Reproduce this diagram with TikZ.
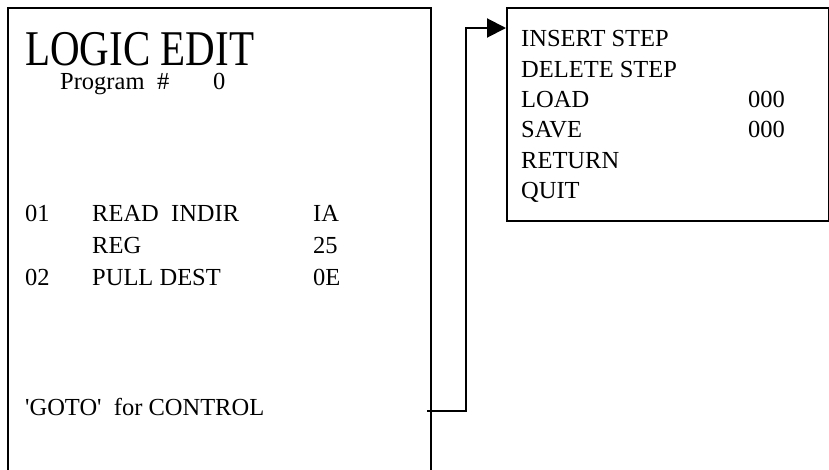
\documentclass[tikz,border=0pt]{standalone}
\usepackage{fontspec}
\usetikzlibrary{arrows.meta}
% plain family (no TeX ligatures) so the straight quotes stay straight
\newfontfamily\tnr{Liberation Serif}
\begin{document}
\begin{tikzpicture}[x=1pt, y=-1pt,
  txt/.style={anchor=base west, inner sep=0pt, font=\tnr\fontsize{24.5}{30}\selectfont},
  frame/.style={draw, line width=2pt, inner sep=0pt, anchor=north west},
  link/.style={line width=2pt, -{Triangle[length=19pt,width=19pt]}}]
\useasboundingbox (0,0) rectangle (829,469);
\clip (0,0) rectangle (829,469);

% editor screen (runs off the bottom) and the pop-up menu
\node[frame, minimum width=423.5pt, minimum height=490pt] (edit) at (6.5,7) {};
\node[frame, minimum width=322pt, minimum height=213pt] (menu) at (506,7) {};

% editor screen contents
\node[txt, text depth=0pt, font=\tnr\fontsize{50}{60}\selectfont] (title) at (25,65) {\scalebox{0.82}[1]{LOGIC EDIT}};
\node[txt] (prog) at (60,89) {Program};
\node[txt] (hash) at (157,89) {\#};
\node[txt] (pnum) at (213,89) {0};

\node[txt] (s1) at (25,221) {01};
\node[txt] (c1) at (92,221) {READ~~INDIR};
\node[txt] (v1) at (313,221) {IA};
\node[txt] (c1b) at (92,253) {REG};
\node[txt] (v1b) at (313,253) {25};
\node[txt] (s2) at (25,285) {02};
\node[txt] (c2) at (92,285) {PULL DEST};
\node[txt] (v2) at (313,285) {0E};

\node[txt] (hint) at (25,415) {'GOTO'~~for CONTROL};

% menu contents
\node[txt] (m1) at (521,46.7) {INSERT STEP};
\node[txt] (m2) at (521,77.1) {DELETE STEP};
\node[txt] (m3) at (521,107.5) {LOAD};
\node[txt] (m3v) at (748,107.5) {000};
\node[txt] (m4) at (521,137.9) {SAVE};
\node[txt] (m4v) at (748,137.9) {000};
\node[txt] (m5) at (521,168.3) {RETURN};
\node[txt] (m6) at (521,198.7) {QUIT};

% GOTO leads from the editor to the menu
\coordinate (ctl) at (427,411);
\coordinate (bend) at (466,411);
\draw[link] (ctl) -- (bend) |- (menu.west |- 0,28);
\end{tikzpicture}
\end{document}
